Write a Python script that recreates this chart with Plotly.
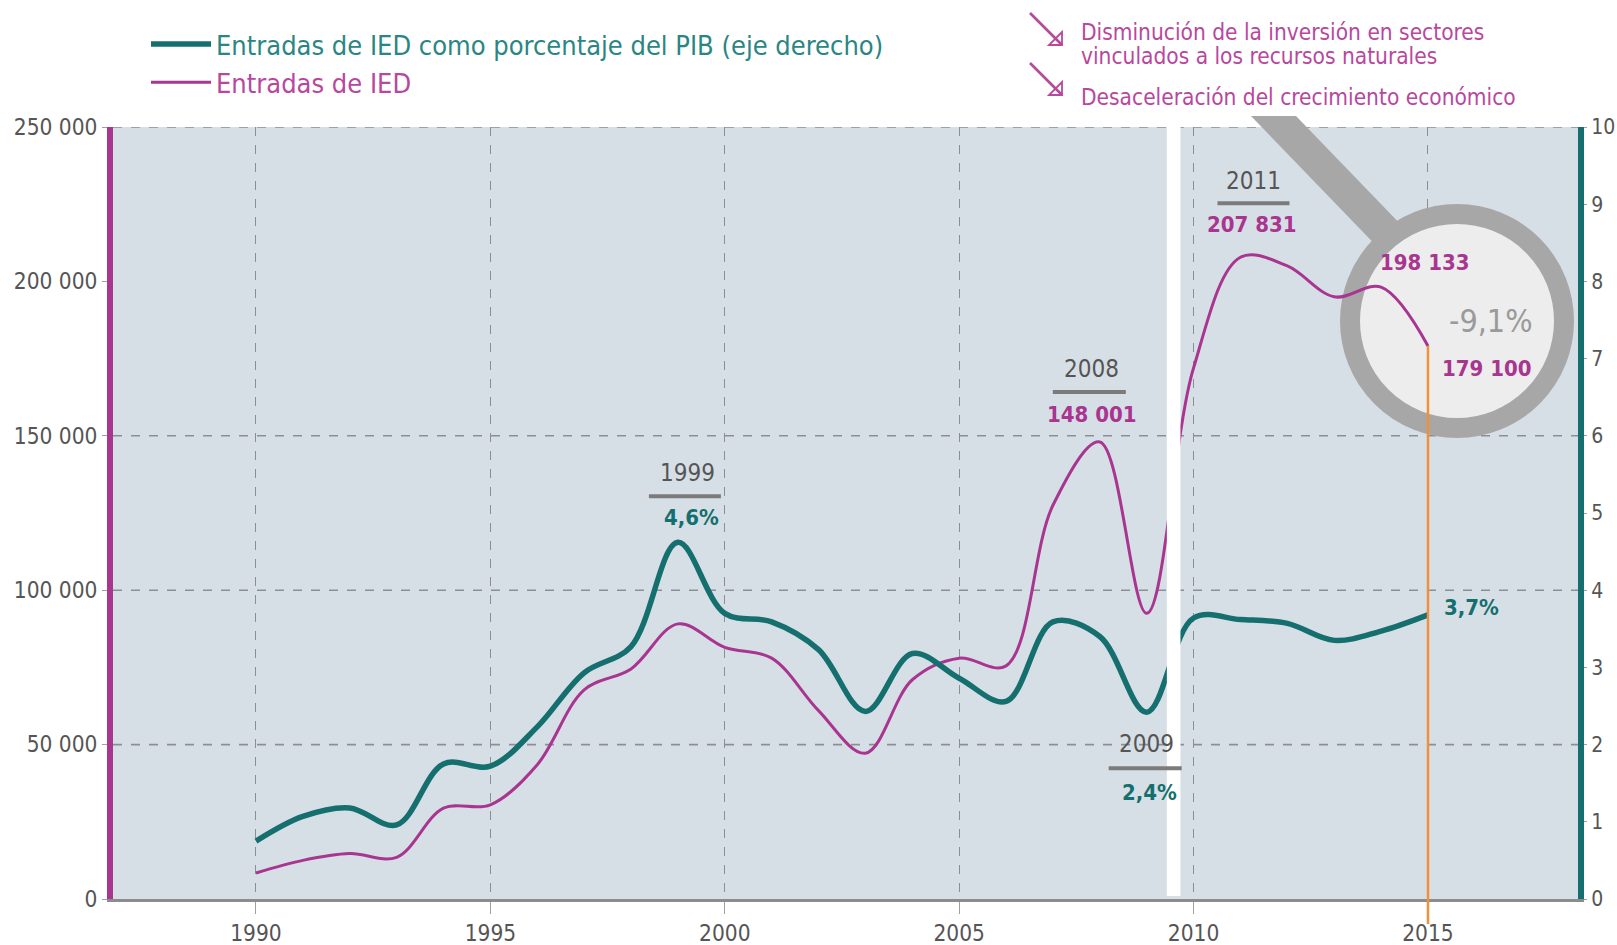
import math
import plotly.graph_objects as go

# Datos
YEARS = list(range(1990, 2016))
IED_MILLONES = [8400, 12500, 14700, 13500, 29400, 30500, 43500, 67700, 74500, 89100,
                81500, 78000, 61000, 47200, 71000, 78000, 75500, 127500, 148001, 92500,
                172000, 207831, 205000, 195000, 198133, 179100]
IED_PCT_PIB = [0.75, 1.07, 1.18, 0.96, 1.75, 1.72, 2.23, 2.93, 3.27, 4.62,
               3.70, 3.59, 3.23, 2.43, 3.18, 2.86, 2.56, 3.59, 3.40, 2.42,
               3.64, 3.62, 3.57, 3.35, 3.47, 3.68]
X_TICKS = [1990, 1995, 2000, 2005, 2010, 2015]
Y_TICKS = [0, 50000, 100000, 150000, 200000, 250000]
Y_TICK_TEXT = ["0", "50 000", "100 000", "150 000", "200 000", "250 000"]
Y2_TICKS = list(range(0, 11))
GRID_Y = [50000, 100000, 150000, 250000]
CAIDA_2015 = "-9,1%"
NOTAS = ["Disminución de la inversión en sectores",
         "vinculados a los recursos naturales",
         "Desaceleración del crecimiento económico"]

MAGENTA = "#a8358f"
MAGENTA_TXT = "#b8479e"
TEAL = "#146f6e"
TEAL_TXT = "#2a8683"
GRAY_TXT = "#555555"
LENS_GRAY = "#a7a7a7"
FONT = "Liberation Sans Narrow, DejaVu Sans Condensed, Roboto, sans-serif"

W, H = 1617, 945
L, R, T, B = 113, 1578, 127, 899
X_RANGE = [1986.95, 2018.2]
Y_MAX = 250000


def px_x(px):
    return X_RANGE[0] + (px - L) / (R - L) * (X_RANGE[1] - X_RANGE[0])


def px_y(py):
    return (B - py) / (B - T) * Y_MAX


def paper_x(px):
    return (px - L) / (R - L)


def paper_y(py):
    return (B - py) / (B - T)


def miles(v):
    return f"{v:,}".replace(",", " ")


def pct(v):
    return f"{v:.1f}%".replace(".", ",")


idx = {y: i for i, y in enumerate(YEARS)}

fig = go.Figure()

fig.add_trace(go.Scatter(
    x=YEARS, y=IED_PCT_PIB, yaxis="y2", mode="lines",
    line=dict(color=TEAL, width=5.5, shape="spline", smoothing=1.0),
    name=f"<span style='color:{TEAL_TXT}'>Entradas de IED como porcentaje del PIB (eje derecho)</span>",
    hoverinfo="skip",
))
fig.add_trace(go.Scatter(
    x=YEARS, y=IED_MILLONES, mode="lines",
    line=dict(color=MAGENTA, width=3, shape="spline", smoothing=1.0),
    name=f"<span style='color:{MAGENTA_TXT}'>Entradas de IED</span>",
    hoverinfo="skip",
))

shapes = []
# horizontal gridlines (no line at 200 000 in the original)
for g in GRID_Y:
    shapes.append(dict(type="line", xref="x", yref="y", x0=X_RANGE[0], x1=X_RANGE[1], y0=g, y1=g,
                       line=dict(color="#8a8f96", width=1.6, dash="dash"), layer="between"))

# magnifying glass lens
cx, cy, rad = 1457, 321, 107
shapes.append(dict(type="circle", xref="x", yref="y",
                   x0=px_x(cx - rad), x1=px_x(cx + rad), y0=px_y(cy + rad), y1=px_y(cy - rad),
                   fillcolor="#ededed", line=dict(color=LENS_GRAY, width=20), layer="between"))

# handle: parallel band at ~46 deg ending inside the ring
ang = math.radians(46)
ux, uy = math.cos(ang), math.sin(ang)


def hit_ring(x0, y0, r):
    # first t where point (x0 + t*ux, y0 + t*uy) is at distance r from lens centre
    bx, by = x0 - cx, y0 - cy
    bq = 2 * (bx * ux + by * uy)
    cq = bx * bx + by * by - r * r
    return (-bq - math.sqrt(bq * bq - 4 * cq)) / 2


top_y = 116
lx, rx = 1251, 1296
tl = hit_ring(lx, top_y, rad + 2)
tr = hit_ring(rx, top_y, rad + 2)
pts = [(lx, top_y), (rx, top_y), (rx + tr * ux, top_y + tr * uy), (lx + tl * ux, top_y + tl * uy)]
hpath = "M " + " L ".join(f"{paper_x(a)},{paper_y(b)}" for a, b in pts) + " Z"
shapes.append(dict(type="path", xref="paper", yref="paper", path=hpath, fillcolor=LENS_GRAY,
                   line=dict(width=0), layer="above"))

# white break band
shapes.append(dict(type="rect", xref="x", yref="paper", x0=2009.43, x1=2009.72, y0=0.004, y1=1,
                   fillcolor="white", line=dict(width=0), layer="above"))

# orange marker line at last year
shapes.append(dict(type="line", xref="x", yref="paper", x0=YEARS[-1], x1=YEARS[-1],
                   y0=IED_MILLONES[-1] / Y_MAX, y1=paper_y(924),
                   line=dict(color="#f0913a", width=2.5), layer="above"))

annotations = []


def etiqueta(year, yref, value, valtxt, color, dx_year, dx_bar, dy_year, dy_bar, dy_val, dx_val):
    annotations.append(dict(x=year, y=value, xref="x", yref=yref, text=str(year), showarrow=False,
                            xshift=dx_year, yshift=dy_year,
                            font=dict(family=FONT, size=24, color=GRAY_TXT)))
    annotations.append(dict(x=year, y=value, xref="x", yref=yref, text=f"<b>{valtxt}</b>", showarrow=False,
                            xshift=dx_val, yshift=dy_val,
                            font=dict(family=FONT, size=22, color=color)))
    shapes.append(dict(type="line", xref="x", yref=yref, xsizemode="pixel", ysizemode="pixel",
                       xanchor=year, yanchor=value, x0=dx_bar[0], x1=dx_bar[1], y0=dy_bar, y1=dy_bar,
                       line=dict(color="#7b7b7b", width=4), layer="above"))


etiqueta(1999, "y2", IED_PCT_PIB[idx[1999]], pct(IED_PCT_PIB[idx[1999]]), TEAL,
         10, (-29, 43), 69, 46, 25, 14)
etiqueta(2008, "y", IED_MILLONES[idx[2008]], miles(IED_MILLONES[idx[2008]]), MAGENTA,
         -8, (-47, 26), 73, 50, 27, -8)
etiqueta(2011, "y", IED_MILLONES[idx[2011]], miles(IED_MILLONES[idx[2011]]), MAGENTA,
         13, (-23, 49), 76, 54, 33, 12)
etiqueta(2009, "y2", IED_PCT_PIB[idx[2009]], pct(IED_PCT_PIB[idx[2009]]), TEAL,
         0, (-38, 35), -32, -56, -80, 3)

annotations += [
    dict(x=2014, y=IED_MILLONES[idx[2014]], xref="x", yref="y", text=f"<b>{miles(IED_MILLONES[idx[2014]])}</b>",
         showarrow=False, xshift=44, yshift=25, font=dict(family=FONT, size=22, color=MAGENTA)),
    dict(x=2015, y=IED_MILLONES[idx[2015]], xref="x", yref="y", text=f"<b>{miles(IED_MILLONES[idx[2015]])}</b>",
         showarrow=False, xshift=59, yshift=-23, font=dict(family=FONT, size=22, color=MAGENTA)),
    dict(x=2015, y=IED_MILLONES[idx[2015]], xref="x", yref="y", text=CAIDA_2015,
         showarrow=False, xshift=63, yshift=25, font=dict(family=FONT, size=32, color="#9a9a9a")),
    dict(x=2015, y=IED_PCT_PIB[idx[2015]], xref="x", yref="y2", text=f"<b>{pct(IED_PCT_PIB[idx[2015]])}</b>",
         showarrow=False, xshift=44, yshift=7, font=dict(family=FONT, size=22, color=TEAL)),
]

# notes top right with arrows
for txt, ty in zip(NOTAS, [32, 56, 97]):
    annotations.append(dict(x=paper_x(1079), y=paper_y(ty), xref="paper", yref="paper", text=txt,
                            xanchor="left", yanchor="middle", align="left", showarrow=False,
                            font=dict(family=FONT, size=22.5, color=MAGENTA_TXT)))
for (ax0, ay0, ax1, ay1) in [(1030, 13, 1062, 45), (1030, 63, 1062, 95)]:
    shapes.append(dict(type="line", xref="paper", yref="paper",
                       x0=paper_x(ax0), y0=paper_y(ay0), x1=paper_x(ax1), y1=paper_y(ay1),
                       line=dict(color=MAGENTA_TXT, width=2.6), layer="above"))
    tri = [(ax1, ay1), (ax1, ay1 - 13), (ax1 - 13, ay1)]
    p = "M " + " L ".join(f"{paper_x(a)},{paper_y(b)}" for a, b in tri) + " Z"
    shapes.append(dict(type="path", xref="paper", yref="paper", path=p,
                       line=dict(color=MAGENTA_TXT, width=1.8), layer="above"))

fig.update_layout(
    width=W, height=H,
    margin=dict(l=L, r=W - R, t=T, b=H - B, pad=0, autoexpand=False),
    paper_bgcolor="white",
    plot_bgcolor="#d7dfe6",
    font=dict(family=FONT, size=22.5, color=GRAY_TXT),
    showlegend=True,
    legend=dict(x=paper_x(146), y=paper_y(20), xanchor="left", yanchor="top",
                bgcolor="rgba(0,0,0,0)", font=dict(family=FONT, size=27), itemwidth=60,
                tracegroupgap=0, traceorder="normal"),
    xaxis=dict(range=X_RANGE, tickvals=X_TICKS, showgrid=True, gridcolor="#8a8f96", griddash="dash",
               gridwidth=1.2, zeroline=False, showline=True, linecolor="#8c8c8c", linewidth=3,
               ticks="outside", ticklen=12, tickcolor="#a0a0a0", tickwidth=1,
               tickfont=dict(family=FONT, size=22.5, color=GRAY_TXT)),
    yaxis=dict(range=[0, Y_MAX], tickvals=Y_TICKS, ticktext=Y_TICK_TEXT, showgrid=False, zeroline=False,
               showline=True, linecolor=MAGENTA, linewidth=6, ticks="outside", ticklen=5,
               tickcolor="#a0a0a0", tickfont=dict(family=FONT, size=22.5, color=GRAY_TXT)),
    yaxis2=dict(range=[0, 10], tickvals=Y2_TICKS, overlaying="y", side="right", showgrid=False,
                zeroline=False, showline=True, linecolor=TEAL, linewidth=6, ticks="outside", ticklen=3,
                tickcolor="#a0a0a0", tickfont=dict(family=FONT, size=21, color=GRAY_TXT)),
    shapes=shapes,
    annotations=annotations,
)

fig.write_html("out.html", config={"displayModeBar": False},
               post_script="document.body.style.margin='0';document.body.style.overflow='hidden';")
